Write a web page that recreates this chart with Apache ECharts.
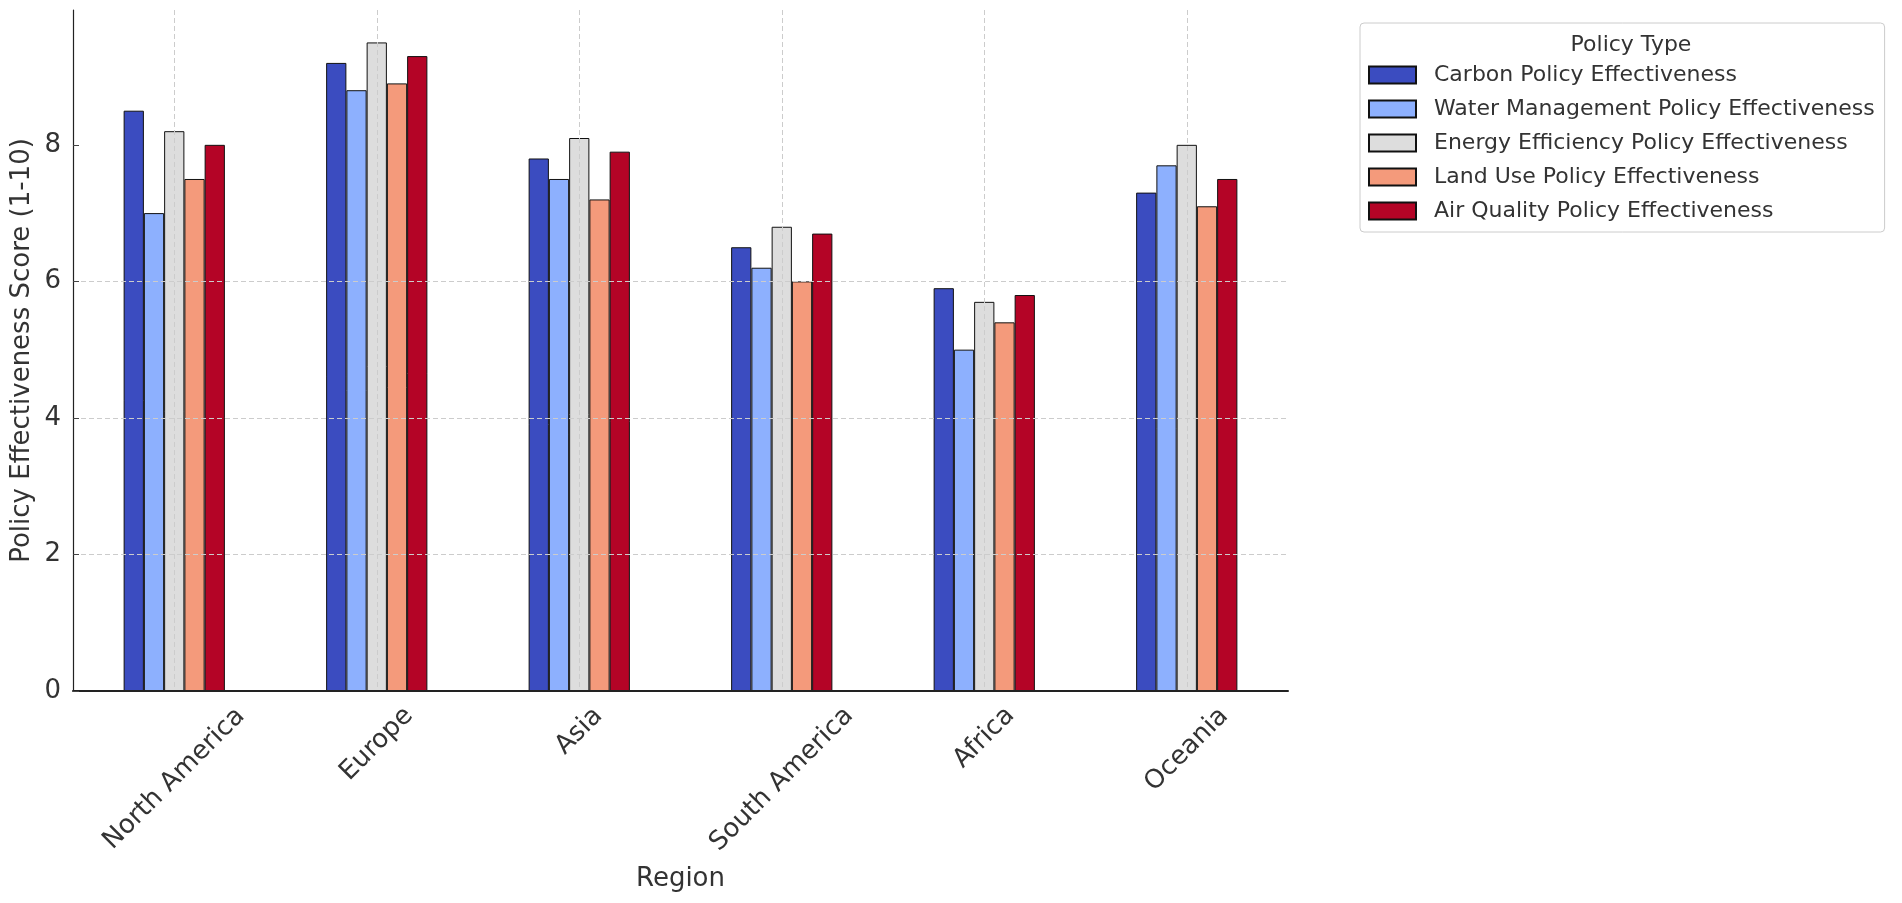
<!DOCTYPE html>
<html>
<head>
<meta charset="utf-8">
<title>Policy Effectiveness by Region</title>
<script src="https://cdn.jsdelivr.net/npm/echarts@6.0.0/dist/echarts.min.js"></script>
<style>
  html, body { margin: 0; padding: 0; background: #fff; }
  #main { width: 1902px; height: 903px; }
</style>
</head>
<body>
<div id="main"></div>
<script>
var regions = ['North America', 'Europe', 'Asia', 'South America', 'Africa', 'Oceania'];
var policyTypes = [
    'Carbon Policy Effectiveness',
    'Water Management Policy Effectiveness',
    'Energy Efficiency Policy Effectiveness',
    'Land Use Policy Effectiveness',
    'Air Quality Policy Effectiveness'
];
var carbon     = [8.5, 9.2, 7.8, 6.5, 5.9, 7.3];
var water      = [7.0, 8.8, 7.5, 6.2, 5.0, 7.7];
var energy     = [8.2, 9.5, 8.1, 6.8, 5.7, 8.0];
var landUse    = [7.5, 8.9, 7.2, 6.0, 5.4, 7.1];
var airQuality = [8.0, 9.3, 7.9, 6.7, 5.8, 7.5];
var yTicks = [0, 2, 4, 6, 8];

var seriesValues = [carbon, water, energy, landUse, airQuality];
var colors = ['#3b4cc0', '#8db0fe', '#dddddd', '#f49a7b', '#b40426'];
var font = '"DejaVu Sans", sans-serif';

// rotated labels centred under the tick (matplotlib style):
// right padding slides the text back along its baseline, a tall lineHeight drops it,
// together that moves the label straight down by half its rotated height
var ctx = document.createElement('canvas').getContext('2d');
ctx.font = '26px "DejaVu Sans"';
var regionAxisData = regions.map(function (name) {
    var w = ctx.measureText(name).width;
    var drop = 14 + 0.354 * (w + 19);
    var s = Math.round(drop * 1.414);
    return {
        value: name,
        textStyle: { align: 'center', verticalAlign: 'top', lineHeight: s, padding: [0, s, 0, 0] }
    };
});

ctx.font = '22px "DejaVu Sans"';
var legendTitle = 'Policy Type';
var legendTitleLeft = 1626 - ctx.measureText(legendTitle).width / 2;

var chart = echarts.init(document.getElementById('main'));

var series = policyTypes.map(function (name, i) {
    return {
        name: name,
        type: 'bar',
        data: seriesValues[i],
        barWidth: '10%',
        barGap: '0%',
        itemStyle: {
            color: colors[i],
            borderColor: '#111',
            borderWidth: 1
        },
        emphasis: { disabled: true }
    };
});

var option = {
    animation: false,
    backgroundColor: '#fff',
    title: {
        text: legendTitle,
        left: legendTitleLeft,
        top: 29,
        textStyle: { fontFamily: font, fontSize: 22, fontWeight: 'normal', color: '#333' },
        z: 10
    },
    legend: {
        data: policyTypes,
        orient: 'vertical',
        left: 1360,
        top: 23,
        padding: [41, 10, 10, 8],
        itemWidth: 47,
        itemHeight: 17,
        itemGap: 12,
        icon: 'rect',
        backgroundColor: '#fff',
        borderColor: '#cccccc',
        borderWidth: 1,
        borderRadius: 4,
        selectedMode: false,
        textStyle: {
            fontFamily: font,
            fontSize: 22,
            lineHeight: 22,
            color: '#333',
            padding: [0, 0, 0, 13]
        }
    },
    grid: {
        left: 73,
        right: 614,
        top: 10,
        bottom: 212,
        containLabel: false,
        outerBoundsMode: 'none'
    },
    xAxis: {
        type: 'category',
        data: regionAxisData,
        z: 5,
        name: 'Region',
        nameLocation: 'middle',
        nameGap: 175,
        nameMoveOverlap: false,
        nameTextStyle: { fontFamily: font, fontSize: 26, color: '#333' },
        axisLine: { lineStyle: { color: '#222', width: 2 } },
        axisTick: {
            alignWithLabel: true,
            inside: true,
            length: 6,
            lineStyle: { color: '#444' }
        },
        axisLabel: {
            interval: 0,
            rotate: 45,
            margin: 0,
            fontFamily: font,
            fontSize: 26,
            color: '#333'
        },
        splitLine: {
            show: true,
            alignWithLabel: true,
            lineStyle: { color: '#cccccc', width: 1, type: [5, 3] }
        }
    },
    yAxis: {
        type: 'value',
        min: 0,
        max: 9.975,
        interval: 2,
        z: 5,
        name: 'Policy Effectiveness Score (1-10)',
        nameLocation: 'middle',
        nameGap: 38,
        nameMoveOverlap: false,
        nameTextStyle: { fontFamily: font, fontSize: 26, color: '#333' },
        axisLine: { show: true, lineStyle: { color: '#222', width: 1.2 } },
        axisTick: {
            show: true,
            inside: true,
            length: 6,
            customValues: yTicks,
            lineStyle: { color: '#444' }
        },
        axisLabel: {
            customValues: yTicks,
            margin: 12,
            fontFamily: font,
            fontSize: 26,
            color: '#333'
        },
        splitLine: {
            show: true,
            showMinLine: false,
            showMaxLine: false,
            lineStyle: { color: '#cccccc', width: 1, type: [5, 3] }
        }
    },
    series: series
};

chart.setOption(option);
</script>
</body>
</html>
